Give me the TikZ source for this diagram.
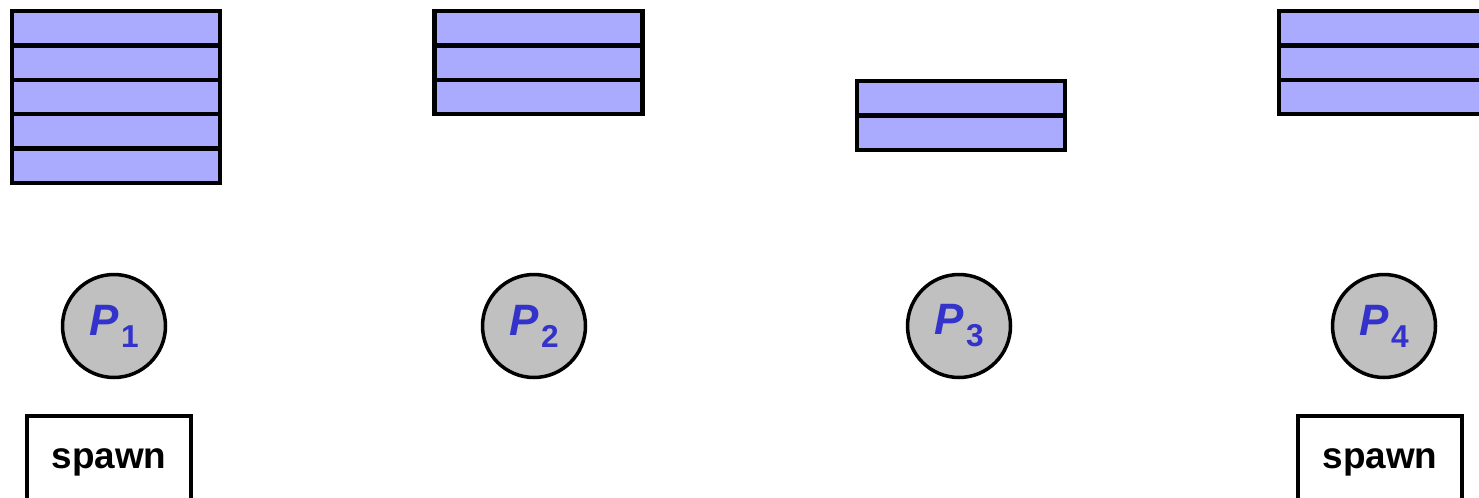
\documentclass[tikz,border=0pt]{standalone}
\usepackage{fontspec}
\setmainfont{Liberation Sans}
\usetikzlibrary{positioning}
\definecolor{cellblue}{HTML}{AAAAFF}
\definecolor{procgray}{HTML}{C0C0C0}
\definecolor{labelblue}{HTML}{3333CC}
\newcommand{\procname}[1]{P\kern1.5pt\raisebox{-6.8pt}{\fontsize{18}{20}\selectfont\upshape #1}}
\tikzset{
  cell/.style     = {shape=rectangle, draw, fill=cellblue,
                     line width=2.6pt, outer sep=0pt, inner sep=0pt,
                     minimum width=4.16cm, minimum height=0.688cm},
  proc/.style     = {shape=circle, draw, fill=procgray,
                     line width=2pt, inner sep=0pt, minimum size=2.06cm,
                     text=labelblue,
                     font=\fontsize{25}{28}\selectfont\bfseries\itshape},
  spawnbox/.style = {shape=rectangle, draw, line width=2.6pt,
                     outer sep=0pt, minimum width=3.28cm, minimum height=1.84cm,
                     font=\fontsize{21}{24}\selectfont\bfseries}
}
\begin{document}
\begin{tikzpicture}[x=0.02cm, y=-0.02cm]
            \useasboundingbox (0,0) rectangle (1479,497);
            \clip (0,0) rectangle (1479,497);

            % queues
            \node (qa1) [cell] at (116,28.2) {};
            \node (qa2) [cell, below=0pt of qa1] {};
            \node (qa3) [cell, below=0pt of qa2] {};
            \node (qa4) [cell, below=0pt of qa3] {};
            \node (qa5) [cell, below=0pt of qa4] {};

            \node (qb1) [cell] at (538.5,28.2) {};
            \node (qb2) [cell, below=0pt of qb1] {};
            \node (qb3) [cell, below=0pt of qb2] {};

            \node (qc1) [cell] at (961,98.2) {};
            \node (qc2) [cell, below=0pt of qc1] {};

            \node (qd1) [cell] at (1383,28.2) {};
            \node (qd2) [cell, below=0pt of qd1] {};
            \node (qd3) [cell, below=0pt of qd2] {};

            % processes
            \node (p1) [proc] at (114,326) {\procname{1}};
            \node (p2) [proc] at (534,326) {\procname{2}};
            \node (p3) [proc] at (959,326) {\procname{3}};
            \node (p4) [proc] at (1384,326) {\procname{4}};

            % spawn boxes
            \node (sp1) [spawnbox] at (109,462) {spawn};
            \node (sp4) [spawnbox] at (1380,462) {spawn};
        \end{tikzpicture}
\end{document}
